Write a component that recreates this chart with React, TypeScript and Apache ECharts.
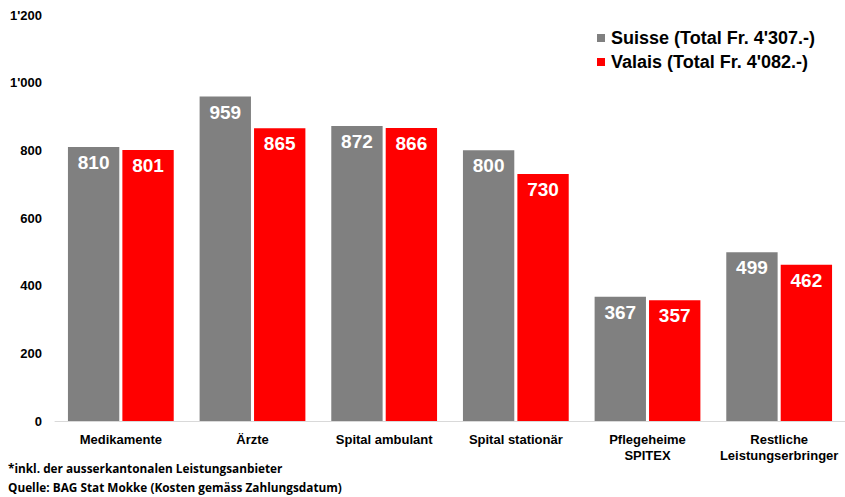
import React, { useEffect, useRef } from "react";
import * as echarts from "echarts";

const categories = [
  "Medikamente",
  "Ärzte",
  "Spital ambulant",
  "Spital stationär",
  "Pflegeheime\nSPITEX",
  "Restliche\nLeistungserbringer",
];
const suisse = [810, 959, 872, 800, 367, 499];
const valais = [801, 865, 866, 730, 357, 462];
const seriesNames = ["Suisse (Total Fr. 4'307.-)", "Valais (Total Fr. 4'082.-)"];
const footnotes = [
  "*inkl. der ausserkantonalen Leistungsanbieter",
  "Quelle: BAG Stat Mokke (Kosten gemäss Zahlungsdatum)",
];

const fmt = (v: number) => String(v).replace(/\B(?=(\d{3})+(?!\d))/g, "'");
const FONT = "'Liberation Sans', Arial, sans-serif";

export default function App() {
  const ref = useRef<HTMLDivElement>(null);
  useEffect(() => {
    if (!ref.current) return;
    const chart = echarts.init(ref.current, null, { renderer: "svg" });
    const label = {
      show: true,
      position: "insideTop" as const,
      distance: 6,
      color: "#fff",
      fontWeight: "bold" as const,
      fontSize: 19,
      fontFamily: FONT,
    };
    chart.setOption({
      animation: false,
      textStyle: { fontFamily: FONT },
      grid: { left: 55, right: 0, top: 15, bottom: 76, containLabel: false },
      legend: {
        orient: "vertical",
        left: 592,
        top: 24,
        itemWidth: 8,
        itemHeight: 8,
        itemGap: 6,
        icon: "rect",
        textStyle: {
          fontSize: 18,
          fontWeight: "bold",
          color: "#000",
          fontFamily: FONT,
          padding: [0, 0, 0, 1],
        },
        data: seriesNames,
      },
      xAxis: {
        type: "category",
        data: categories,
        axisLine: { lineStyle: { color: "#d9d9d9", width: 1 } },
        axisTick: { show: false },
        axisLabel: {
          color: "#000",
          fontWeight: "bold",
          fontSize: 13,
          fontFamily: FONT,
          margin: 10,
          interval: 0,
          lineHeight: 16,
        },
      },
      yAxis: {
        type: "value",
        min: 0,
        max: 1200,
        interval: 200,
        splitLine: { show: false },
        axisLine: { show: false },
        axisTick: { show: false },
        axisLabel: {
          color: "#000",
          fontWeight: "bold",
          fontSize: 13,
          fontFamily: FONT,
          margin: 13,
          formatter: (v: number) => fmt(v),
        },
      },
      series: [
        {
          name: seriesNames[0],
          type: "bar",
          data: suisse,
          barWidth: "39%",
          barGap: "6%",
          itemStyle: { color: "#808080" },
          label,
        },
        {
          name: seriesNames[1],
          type: "bar",
          data: valais,
          barWidth: "39%",
          itemStyle: { color: "#ff0000" },
          label,
        },
      ],
      graphic: footnotes.map((t, i) => ({
        type: "text",
        left: 8,
        top: 462 + i * 19,
        style: {
          text: t,
          fontSize: 11.8,
          fontWeight: "bold",
          fill: "#000",
          fontFamily: "'Open Sans', 'Noto Sans', sans-serif",
        },
      })),
    });
    return () => chart.dispose();
  }, []);
  return <div ref={ref} style={{ width: 845, height: 497, position: "absolute", left: 0, top: 0 }} />;
}
